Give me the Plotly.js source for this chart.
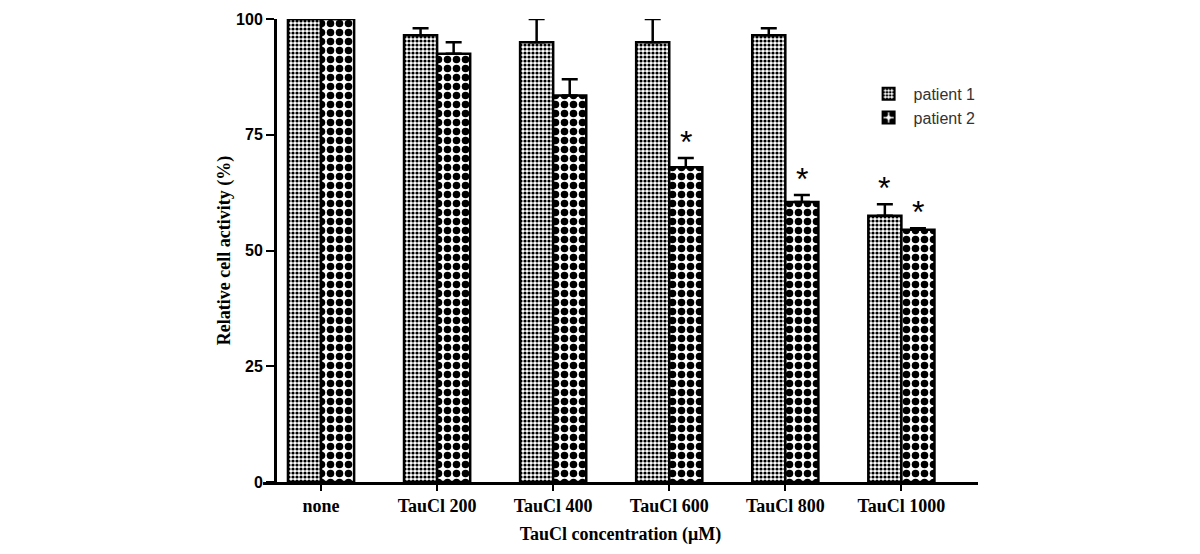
<!DOCTYPE html>
<html>
<head>
<meta charset="utf-8">
<script src="https://cdn.plot.ly/plotly-3.0.1.min.js"></script>
<style>
  body { margin: 0; background: #fff; }
  #chart { width: 1200px; height: 554px; }
</style>
</head>
<body>
<div id="chart"></div>
<script>
// dati
const categories = ['none', 'TauCl 200', 'TauCl 400', 'TauCl 600', 'TauCl 800', 'TauCl 1000'];
const patient1 = [100, 96.5, 95, 95, 96.5, 57.5];
const patient1Err = [0, 1.5, 5, 5, 1.5, 2.5];
const patient2 = [100, 92.5, 83.5, 68, 60.5, 54.5];
const patient2Err = [0, 2.5, 3.5, 2, 1.5, 0.3];
// asterischi di significativita'
const starP1 = [false, false, false, false, false, true];
const starP2 = [false, false, false, true, true, true];

const serif = 'Liberation Serif, Times New Roman, serif';
const sans = 'Liberation Sans, Arial, sans-serif';

function makeBar(name, values, errs, size, solidity) {
    return {
        type: 'bar',
        name: name,
        x: categories,
        y: values,
        error_y: {
            type: 'data',
            symmetric: false,
            array: errs,
            arrayminus: errs.map(() => 0),
            color: '#000',
            thickness: 2.5,
            width: 8
        },
        marker: {
            color: '#fff',
            line: { color: '#000', width: 2.5 },
            pattern: { shape: '.', fgcolor: '#000', bgcolor: '#fff', size: size, solidity: solidity, fillmode: 'replace' }
        },
        cliponaxis: false
    };
}

const traces = [
    makeBar('patient 1', patient1, patient1Err, 4, 0.5),
    makeBar('patient 2', patient2, patient2Err, 9, 0.55)
];

// annotazioni con asterisco sopra le barre di errore
const annotations = [];
categories.forEach((c, i) => {
    if (starP1[i]) {
        annotations.push({ x: c, y: patient1[i] + patient1Err[i], xshift: -17, yshift: -4, text: '*', showarrow: false, yanchor: 'bottom', font: { family: sans, size: 32, color: '#000' } });
    }
    if (starP2[i]) {
        annotations.push({ x: c, y: patient2[i] + patient2Err[i], xshift: 17, yshift: -4, text: '*', showarrow: false, yanchor: 'bottom', font: { family: sans, size: 32, color: '#000' } });
    }
});

const layout = {
    width: 1200,
    height: 554,
    margin: { l: 263, r: 222, t: 19, b: 72 },
    paper_bgcolor: '#fff',
    plot_bgcolor: '#fff',
    barmode: 'group',
    bargap: 0.43,
    bargroupgap: 0,
    showlegend: true,
    legend: {
        x: 0.84, y: 0.875, xanchor: 'left', yanchor: 'top',
        font: { family: sans, size: 16, color: '#333' },
        bgcolor: 'rgba(0,0,0,0)',
        itemwidth: 40,
        itemsizing: 'constant'
    },
    xaxis: {
        range: [-0.5, 5.66],
        showline: true, linecolor: '#000', linewidth: 2.5,
        ticks: 'outside', ticklen: 6, tickwidth: 2, tickcolor: '#000',
        tickfont: { family: serif, size: 18, color: '#000', weight: 'bold' },
        title: { text: '<b>TauCl concentration (μM)</b>', font: { family: serif, size: 18, color: '#000' }, standoff: 13 },
        showgrid: false, zeroline: false
    },
    yaxis: {
        range: [0, 100],
        anchor: 'free', position: 0.0168,
        showline: true, linecolor: '#000', linewidth: 2.5,
        ticks: 'outside', ticklen: 8, tickwidth: 2, tickcolor: '#000',
        tickvals: [0, 25, 50, 75, 100],
        tickfont: { family: sans, size: 16, color: '#000', weight: 'bold' },
        title: { text: '<b>Relative cell activity (%)</b>', font: { family: serif, size: 18, color: '#000' }, standoff: 0 },
        showgrid: false, zeroline: false
    },
    annotations: annotations
};

Plotly.newPlot('chart', traces, layout, { staticPlot: true });
</script>
</body>
</html>
